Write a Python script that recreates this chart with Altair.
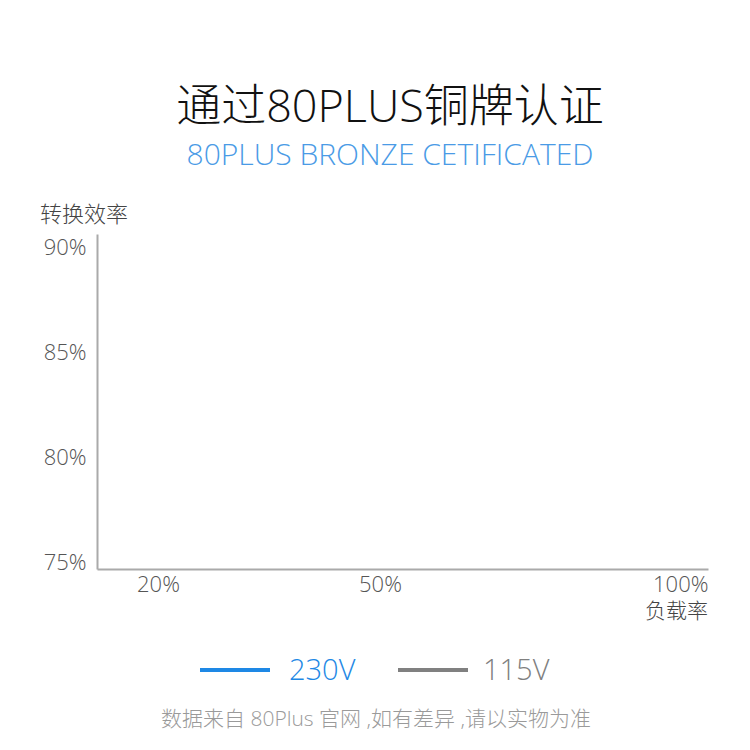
import altair as alt
import pandas as pd

# ---- data ----
load_ticks = [20, 50, 100]            # x axis (负载率, %)
eff_ticks = [75, 80, 85, 90]          # y axis (转换效率, %)
series_names = ["230V", "115V"]
series_colors = ["#1e88e5", "#808080"]
title_text = "通过80PLUS铜牌认证"
subtitle_text = "80PLUS BRONZE CETIFICATED"
y_title = "转换效率"
x_title = "负载率"
footer_text = "数据来自 80Plus 官网 ,如有差异 ,请以实物为准"

FONT = "Open Sans, Noto Sans CJK SC"

axis_df = pd.DataFrame({"load": load_ticks, "eff": [75] * len(load_ticks)})

x_enc = alt.X(
    "load:Q",
    scale=alt.Scale(domain=[0, 20, 50, 100], range=[0, 61, 283, 611], clamp=True),
    axis=alt.Axis(
        values=load_ticks,
        labelExpr="datum.value + '%'",
        title=None,
        grid=False,
        ticks=False,
        domainColor="#aaaaaa",
        domainWidth=2,
        labelColor="#555555",
        labelFontSize=22,
        labelFont=FONT,
        labelFontWeight=300,
        labelPadding=5,
        labelAlign={"expr": "datum.value == 100 ? 'right' : 'center'"},
        labelBaseline="top",
    ),
)
y_enc = alt.Y(
    "eff:Q",
    scale=alt.Scale(domain=[75, 91], nice=False, zero=False),
    axis=alt.Axis(
        values=eff_ticks,
        labelExpr="datum.value + '%'",
        title=None,
        grid=False,
        ticks=False,
        domainColor="#aaaaaa",
        domainWidth=2,
        labelColor="#555555",
        labelFontSize=22,
        labelFont=FONT,
        labelFontWeight=300,
        labelPadding=11,
        labelBaseline="alphabetic",
    ),
)

base = alt.Chart(axis_df).mark_point(opacity=0).encode(x=x_enc, y=y_enc)

one = pd.DataFrame({"k": [0]})


def txt(text, x, y, size, color, align="center", weight=300, baseline="middle"):
    return alt.Chart(one).mark_text(
        text=text, font=FONT, fontSize=size, color=color, align=align,
        baseline=baseline, fontWeight=weight, clip=False,
    ).encode(x=alt.value(x), y=alt.value(y))


title = txt(title_text, 293, -126, 45, "#111111", weight=300)
subtitle = txt(subtitle_text, 293, -78, 30, "#4a9be6")
ytitle = txt(y_title, -57, -19, 22, "#444444", align="left", weight=300)
xtitle = txt(x_title, 611, 378, 21, "#444444", align="right", weight=300)
footer = txt(footer_text, 279, 486, 21, "#9a9a9a")

legend_layers = []
line_x = [103, 301]
label_x = [192, 386]
for name, color, lx, tx in zip(series_names, series_colors, line_x, label_x):
    legend_layers.append(
        alt.Chart(one).mark_rule(color=color, strokeWidth=4, clip=False).encode(
            x=alt.value(lx), x2=alt.value(lx + 70), y=alt.value(436)
        )
    )
    legend_layers.append(txt(name, tx, 437, 29, color, align="left"))

chart = alt.layer(
    base, title, subtitle, ytitle, xtitle, footer, *legend_layers
).properties(
    width=611,
    height=335,
    autosize=alt.AutoSizeParams(type="none"),
    padding={"left": 89, "top": 226, "right": 34, "bottom": 173},
).configure_view(stroke=None)

chart.save("out.html", embed_options={"renderer": "svg", "actions": False})
